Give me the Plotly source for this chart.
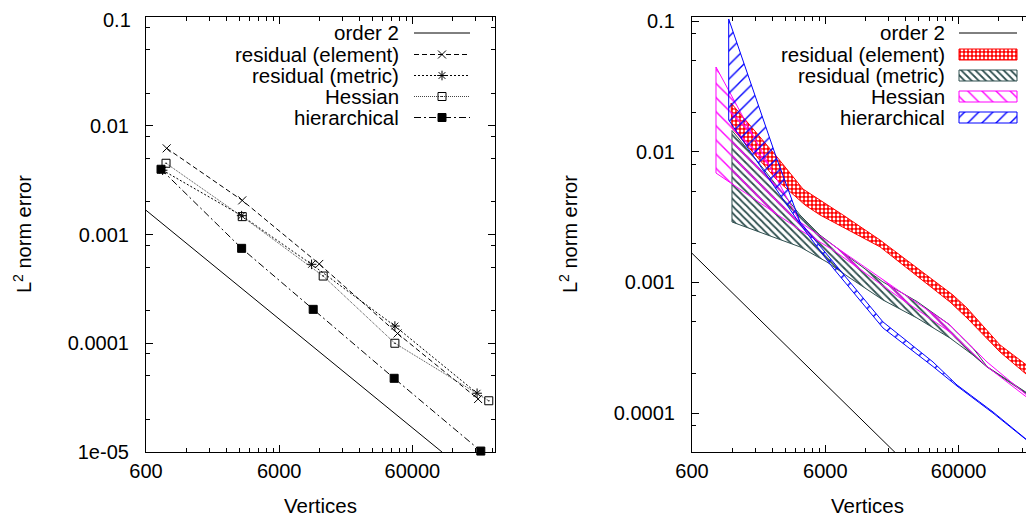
import math
import plotly.graph_objects as go

# page window is 1034x517; the page body adds an 8px offset, so the figure
# is sized to the remaining area and positions below are given in window pixels.
WIN_W, WIN_H = 1034, 517
OFF = 8
W, H = WIN_W - OFF, WIN_H - OFF
FONT = "Liberation Sans, Arial, sans-serif"
FS = 20

# ---------------- data: left panel ----------------
order2_x = [600, 100000]
order2_y = [1.67e-3, 1.0e-5]

element_x = [858, 3167, 11980, 46400, 186600]
element_y = [6.2e-3, 2.06e-3, 5.36e-4, 1.23e-4, 3.07e-5]

metric_x = [800, 3134, 10500, 44300, 183400]
metric_y = [3.9e-3, 1.49e-3, 5.32e-4, 1.44e-4, 3.47e-5]

hessian_x = [848, 3167, 12830, 44300, 224500]
hessian_y = [4.52e-3, 1.46e-3, 4.15e-4, 1.0e-4, 2.96e-5]

hier_x = [778, 3134, 10795, 43740, 195600]
hier_y = [3.98e-3, 7.46e-4, 2.05e-4, 4.76e-5, 1.02e-5]

# ---------------- data: right panel (bands: upper / lower edges) ----------------
red_up_x = [1177, 2605, 4082, 5475, 8142, 15440, 54470, 69360, 122700, 216900, 266800]
red_up_y = [0.0236, 0.00911, 0.00518, 0.00427, 0.00328, 0.00211, 0.0008, 0.000637, 0.000332, 0.000214, 0.00017]
red_lo_x = [1197, 2605, 4225, 5475, 15440, 51710, 69360, 122700, 216900, 266800]
red_lo_y = [0.01518, 0.00607, 0.00391, 0.00328, 0.00187, 0.000708, 0.000534, 0.000293, 0.000179, 0.00015]

gray_up_x = [1197, 1876, 3875, 5475, 9193, 16260, 29240, 51710, 76980, 97980, 216900, 266800]
gray_up_y = [0.01453, 0.00834, 0.00328, 0.0023, 0.00154, 0.001007, 0.000714, 0.000472, 0.000315, 0.000227, 0.000133, 0.000115]
gray_lo_x = [1197, 3875, 6181, 9193, 16260, 29240, 51710, 76980, 97980, 216900, 266800]
gray_lo_y = [0.0029, 0.00187, 0.00143, 0.00108, 0.000733, 0.000534, 0.000375, 0.000278, 0.000225, 0.00013, 0.000113]

mag_up_x = [908, 3875, 6854, 21810, 51710, 97980, 198900]
mag_up_y = [0.0445, 0.0029, 0.00193, 0.000852, 0.000472, 0.000246, 0.000135]
mag_lo_x = [908, 3875, 6854, 21810, 51710, 97980, 198900]
mag_lo_y = [0.00687, 0.00252, 0.00177, 0.00076, 0.000417, 0.000227, 0.00013]

blue_up_x = [1131, 2561, 3875, 6854, 16260, 38560, 58370, 108700, 220700, 266800]
blue_up_y = [0.1036, 0.00919, 0.0029, 0.00143, 0.000498, 0.000246, 0.000164, 0.000102, 5.7e-5, 4.9e-5]
blue_lo_x = [1131, 3875, 6854, 16260, 38560, 58370, 108700, 220700, 266800]
blue_lo_y = [0.01748, 0.0028, 0.00129, 0.000448, 0.000227, 0.000161, 0.0001, 5.6e-5, 4.8e-5]

legend_labels = ["order 2", "residual (element)", "residual (metric)", "Hessian", "hierarchical"]

x_tickvals = [600, 6000, 60000]
x_ticktext = ["600", "6000", "60000"]
yl_tickvals = [1e-5, 1e-4, 1e-3, 1e-2, 1e-1]
yl_ticktext = ["1e-05", "0.0001", "0.001", "0.01", "0.1"]
yr_tickvals = [1e-4, 1e-3, 1e-2, 1e-1]
yr_ticktext = ["0.0001", "0.001", "0.01", "0.1"]

# ---------------- styles ----------------
C_RED = "#ff0000"
C_GRAY = "#2f4f4f"
C_MAG = "#ff00ff"
C_BLUE = "#0000ff"
CLEAR = "rgba(0,0,0,0)"

x_minor = [m * 600 * 10 ** k for k in range(0, 3) for m in range(2, 10)]
y_minor = [m * 10.0 ** k for k in range(-6, 0) for m in (2, 5, 8)]


def px(p):
    return (p - OFF) / W


def py(p):
    return 1 - (p - OFF) / H


fig = go.Figure()

# ---- left panel ----
fig.add_trace(go.Scatter(x=order2_x, y=order2_y, mode="lines",
                         line=dict(color="black", width=1), xaxis="x", yaxis="y"))
left_series = [
    (element_x, element_y, "5px,3px", "x-thin-open", 8, "black"),
    (metric_x, metric_y, "2px,2px", "asterisk-open", 8, "black"),
    (hessian_x, hessian_y, "1px,1px", "square-open-dot", 8, "#444444"),
    (hier_x, hier_y, "7px,3px,2px,3px", "square", 8, "black"),
]
for xs, ys, dash, sym, size, col in left_series:
    fig.add_trace(go.Scatter(x=xs, y=ys, mode="lines+markers",
                             line=dict(color=col, width=1, dash=dash),
                             marker=dict(symbol=sym, size=size, color="black",
                                         line=dict(color="black", width=1)),
                             cliponaxis=False, xaxis="x", yaxis="y"))

# ---- right panel ----
fig.add_trace(go.Scatter(x=order2_x, y=order2_y, mode="lines",
                         line=dict(color="black", width=1), xaxis="x2", yaxis="y2"))

bands = [
    (red_up_x, red_up_y, red_lo_x, red_lo_y, C_RED,
     dict(shape=".", fgcolor="white", bgcolor=C_RED, size=4, solidity=0.4)),
    (gray_up_x, gray_up_y, gray_lo_x, gray_lo_y, C_GRAY,
     dict(shape="\\", fgcolor=C_GRAY, bgcolor=CLEAR, size=5, solidity=0.35)),
    (mag_up_x, mag_up_y, mag_lo_x, mag_lo_y, C_MAG,
     dict(shape="\\", fgcolor=C_MAG, bgcolor=CLEAR, size=10, solidity=0.14)),
    (blue_up_x, blue_up_y, blue_lo_x, blue_lo_y, C_BLUE,
     dict(shape="/", fgcolor=C_BLUE, bgcolor=CLEAR, size=10, solidity=0.14)),
]
for ux, uy, lx, ly, col, pat in bands:
    fig.add_trace(go.Scatter(x=ux + lx[::-1] + ux[:1], y=uy + ly[::-1] + uy[:1],
                             mode="lines", fill="toself", fillcolor=CLEAR, fillpattern=pat,
                             line=dict(color=col, width=1), xaxis="x2", yaxis="y2"))

# ---- legend samples (overlay axis in window pixels) ----
rows = [33, 54.5, 75.5, 96.5, 117.5]
# left legend
lx0, lx1 = 414, 470
fig.add_trace(go.Scatter(x=[lx0, lx1], y=[rows[0]] * 2, mode="lines",
                         line=dict(color="black", width=1), xaxis="x3", yaxis="y3"))
for (xs, ys, dash, sym, size, col), r in zip(left_series, rows[1:]):
    fig.add_trace(go.Scatter(x=[lx0, (lx0 + lx1) / 2, lx1], y=[r] * 3, mode="lines",
                             line=dict(color=col, width=1, dash=dash),
                             xaxis="x3", yaxis="y3"))
    fig.add_trace(go.Scatter(x=[(lx0 + lx1) / 2], y=[r], mode="markers",
                             marker=dict(symbol=sym, size=size, color="black",
                                         line=dict(color="black", width=1)),
                             xaxis="x3", yaxis="y3"))
# right legend
rx0, rx1 = 959, 1017
fig.add_trace(go.Scatter(x=[rx0, rx1], y=[rows[0]] * 2, mode="lines",
                         line=dict(color="black", width=1), xaxis="x3", yaxis="y3"))
for (ux, uy, lx, ly, col, pat), r in zip(bands, rows[1:]):
    fig.add_trace(go.Scatter(x=[rx0, rx1, rx1, rx0, rx0],
                             y=[r - 5.5, r - 5.5, r + 5.5, r + 5.5, r - 5.5],
                             mode="lines", fill="toself", fillcolor=CLEAR, fillpattern=pat,
                             line=dict(color=col, width=1), xaxis="x3", yaxis="y3"))

annotations = []
for lab, r in zip(legend_labels, rows):
    for xr in (401, 947):
        annotations.append(dict(text=lab, x=px(xr), y=py(r), xref="paper", yref="paper",
                                xanchor="right", yanchor="middle", showarrow=False,
                                font=dict(family=FONT, size=20.5, color="black")))
for cx in (320, 867):
    annotations.append(dict(text="Vertices", x=px(cx), y=py(505), xref="paper", yref="paper",
                            xanchor="center", yanchor="middle", showarrow=False,
                            font=dict(family=FONT, size=20.5, color="black")))
for cx in (22, 568):
    annotations.append(dict(text="L<sup>2</sup> norm error", x=px(cx), y=py(234), xref="paper",
                            yref="paper", xanchor="center", yanchor="middle", showarrow=False,
                            textangle=-90, font=dict(family=FONT, size=20, color="black")))
# top tick label of the left panel sits at the very top edge; place it as text just below
annotations.append(dict(text=yl_ticktext[-1], x=px(133), y=py(20), xref="paper", yref="paper",
                        xanchor="right", yanchor="middle", showarrow=False,
                        font=dict(family=FONT, size=FS, color="black")))
yl_shown = yl_ticktext[:-1] + [""]

common = dict(type="log", showline=True, linecolor="black", linewidth=1.2, ticks="inside",
              ticklen=7, tickwidth=1, tickcolor="black", showgrid=False, zeroline=False,
              automargin=False, ticklabeloverflow="allow",
              tickfont=dict(family=FONT, size=FS, color="black"), tickmode="array")

ydom = [py(452), py(17)]
fig.update_layout(
    template="none",
    width=W, height=H, margin=dict(l=0, r=0, t=0, b=0, pad=0),
    paper_bgcolor="white", plot_bgcolor=CLEAR, showlegend=False,
    xaxis=dict(**common, domain=[px(146), px(495)], anchor="y",
               range=[math.log10(600), math.log10(250000)], mirror="allticks",
               tickvals=x_tickvals, ticktext=x_ticktext, ticklabelstandoff=1,
               minor=dict(tickvals=x_minor, ticks="inside", ticklen=4, tickcolor="black")),
    yaxis=dict(**common, domain=ydom, anchor="x", range=[-5, -1], mirror="allticks",
               tickvals=yl_tickvals, ticktext=yl_shown, ticklabelstandoff=12,
               minor=dict(tickvals=y_minor, ticks="inside", ticklen=4, tickcolor="black")),
    xaxis2=dict(**common, domain=[px(692), 1.0], anchor="y2",
                range=[math.log10(600), math.log10(600) + (WIN_W - 692) / 133.3], mirror="allticks",
                tickvals=x_tickvals, ticktext=x_ticktext, ticklabelstandoff=1,
                minor=dict(tickvals=x_minor, ticks="inside", ticklen=4, tickcolor="black")),
    yaxis2=dict(**common, domain=ydom, anchor="x2", range=[-4.298, -0.969], mirror=False,
                tickvals=yr_tickvals, ticktext=yr_ticktext, ticklabelstandoff=12,
                minor=dict(tickvals=y_minor, ticks="inside", ticklen=4, tickcolor="black")),
    xaxis3=dict(domain=[0, 1], range=[OFF, WIN_W], visible=False, anchor="y3", fixedrange=True,
                automargin=False),
    yaxis3=dict(domain=[0, 1], range=[WIN_H, OFF], visible=False, anchor="x3", fixedrange=True,
                automargin=False),
    annotations=annotations,
)

fig.write_html("out.html")
